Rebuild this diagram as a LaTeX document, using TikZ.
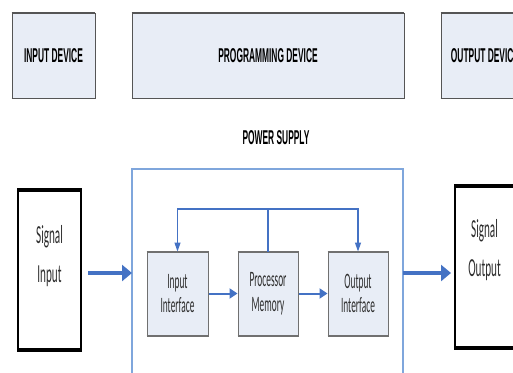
\documentclass[tikz,border=0pt]{standalone}
\usepackage{fontspec}
\usetikzlibrary{arrows.meta}
\newfontfamily\labfont[FakeStretch=0.42]{Liberation Sans}
\newfontfamily\txtfont[FakeStretch=0.425]{Carlito}
\newfontfamily\sigfont[FakeStretch=0.43]{Carlito}
\definecolor{boxfill}{HTML}{E8EDF6}
\definecolor{boxedge}{HTML}{555555}
\definecolor{inedge}{HTML}{707070}
\definecolor{flow}{HTML}{4472C4}
\definecolor{frameblue}{HTML}{7FA6DC}
\definecolor{txtgray}{HTML}{2E2E2E}
\tikzset{
  devbox/.style={draw=boxedge, fill=boxfill, line width=0.8pt, inner sep=0pt,
    font=\labfont\bfseries\fontsize{20}{22}\selectfont, text=black},
  unitbox/.style={draw=inedge, fill=boxfill, line width=1pt, inner sep=0pt,
    minimum width=60pt, minimum height=83pt, align=center,
    font=\txtfont\fontsize{22}{24.5}\selectfont, text=txtgray},
  sigbox/.style={draw=black, fill=white, line width=2pt, inner sep=0pt},
  sigtext/.style={align=center, font=\sigfont\fontsize{26}{39}\selectfont, text=txtgray},
  bigflow/.style={draw=flow, line width=3.2pt, -{Triangle[length=10pt,width=16pt]}},
  smallflow/.style={draw=flow, line width=2pt, -{Triangle[length=8pt,width=10pt]}},
  feedback/.style={draw=flow, line width=1.2pt, -{Triangle[length=9pt,width=6pt]}},
  frameline/.style={draw=frameblue, line width=1.4pt},
}
\begin{document}
\begin{tikzpicture}[x=1pt, y=-1pt]
  \clip (0,0) rectangle (513,372);
  \fill[white] (0,0) rectangle (513,372);

  % device row
  \node[devbox, minimum width=83pt, minimum height=85pt] (indev) at (53.5,55.5) {INPUT DEVICE};
  \node[devbox, minimum width=272pt, minimum height=85pt] (progdev) at (268,55.5) {PROGRAMMING DEVICE};
  \node[devbox, minimum width=88pt, minimum height=85pt] (outdev) at (485,55.5) {OUTPUT DEVICE};
  \foreach \n in {indev,progdev,outdev}{
    \draw[boxedge, line width=1.8pt] (\n.north west) -- (\n.north east);
    \draw[boxedge, line width=1.8pt] (\n.south west) -- (\n.south east);
  }

  % power supply frame, open at the bottom
  \node[font=\labfont\bfseries\fontsize{20}{22}\selectfont] (psu) at (276,138) {POWER SUPPLY};
  \coordinate (frTL) at (132,169);
  \coordinate (frTR) at (403,169);
  \coordinate (frBL) at (132,380);
  \coordinate (frBR) at (403,380);
  \draw[frameline] (frBL) -- (frTL) -- (frTR) -- (frBR);

  % signal boxes
  \node[sigbox, minimum width=63pt, minimum height=158pt] (sigin) at (49.5,270) {};
  \draw[black, line width=4pt] (sigin.north west) -- (sigin.north east);
  \draw[black, line width=4pt] (sigin.south west) -- (sigin.south east);
  \node[sigtext] (sigintxt) at (49.5,256) {Signal\\Input};

  \node[sigbox, minimum width=60pt, minimum height=160pt] (sigout) at (485,267) {};
  \draw[black, line width=4pt] (sigout.north west) -- (sigout.north east);
  \draw[black, line width=4pt] (sigout.south west) -- (sigout.south east);
  \node[sigtext] (sigouttxt) at (484.5,250) {Signal\\Output};

  % processing units
  \node[unitbox, minimum width=61pt] (inif) at (177.5,293.5) {Input\\Interface};
  \node[unitbox] (proc) at (268,293.5) {Processor\\Memory};
  \node[unitbox] (outif) at (358,293.5) {Output\\Interface};
  \foreach \n in {inif,proc,outif}{
    \draw[inedge, line width=2pt] (\n.north west) -- (\n.north east);
    \draw[inedge, line width=2pt] (\n.south west) -- (\n.south east);
  }

  % data flow
  \coordinate (inA) at (132,273);
  \coordinate (outA) at (403,273);
  \draw[bigflow, shorten <=6pt] (sigin.east |- inA) -- (inA);
  \draw[bigflow, shorten >=3pt] (outA) -- (sigout.west |- outA);
  \draw[smallflow] (inif.east) -- (proc.west);
  \draw[smallflow] (proc.east) -- (outif.west);

  % feedback bus from the processor
  \coordinate (bus) at (268,209);
  \draw[draw=flow, line width=1.2pt] (proc.north) -- (bus);
  \draw[feedback] (bus) -| (inif.north);
  \draw[feedback] (bus) -| (outif.north);
\end{tikzpicture}
\end{document}
